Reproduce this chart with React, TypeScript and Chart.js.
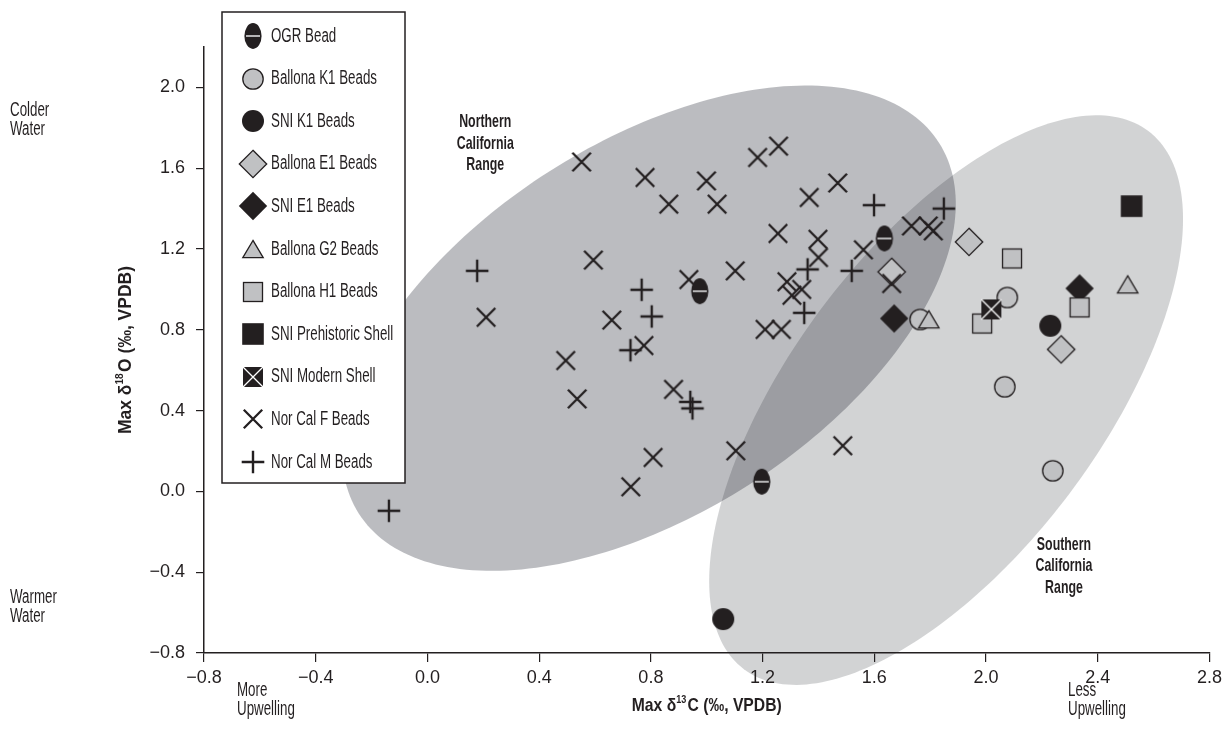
import React, { useEffect, useRef } from "react";
import { Chart, registerables } from "chart.js";

Chart.register(...registerables);

// ---------- axes ----------
const X_TICKS = [-0.8, -0.4, 0, 0.4, 0.8, 1.2, 1.6, 2.0, 2.4, 2.8];
const Y_TICKS = [-0.8, -0.4, 0, 0.4, 0.8, 1.2, 1.6, 2.0];
const X_RANGE = [-0.8, 2.8];
const Y_RANGE = [-0.8, 2.2];

// ---------- series ----------
const SERIES_NAMES = [
  "OGR Bead",
  "Ballona K1 Beads",
  "SNI K1 Beads",
  "Ballona E1 Beads",
  "SNI E1 Beads",
  "Ballona G2 Beads",
  "Ballona H1 Beads",
  "SNI Prehistoric Shell",
  "SNI Modern Shell",
  "Nor Cal F Beads",
  "Nor Cal M Beads",
];

const OGR_BEAD: number[][] = [
  [0.975, 0.991],
  [1.636, 1.252],
  [1.197, 0.048],
];
const BALLONA_K1: number[][] = [
  [1.764, 0.851],
  [2.076, 0.96],
  [2.067, 0.518],
  [2.239, 0.102],
];
const SNI_K1: number[][] = [
  [2.23, 0.82],
  [1.059, -0.632],
];
const BALLONA_E1: number[][] = [
  [1.662, 1.087],
  [1.939, 1.235],
  [2.269, 0.703],
];
const SNI_E1: number[][] = [
  [1.671, 0.856],
  [2.335, 1.005],
];
const BALLONA_G2: number[][] = [
  [1.795, 0.852],
  [2.507, 1.025],
];
const BALLONA_H1: number[][] = [
  [2.093, 1.153],
  [1.986, 0.831],
  [2.335, 0.911],
];
const SNI_PREHISTORIC: number[][] = [[2.521, 1.412]];
const SNI_MODERN: number[][] = [[2.019, 0.901]];
const NOR_CAL_F: number[][] = [
  [0.552, 1.631], [0.779, 1.554], [0.999, 1.537], [0.864, 1.422], [1.037, 1.422],
  [1.182, 1.653], [1.257, 1.709], [1.255, 1.277], [0.594, 1.145], [1.102, 1.092],
  [0.936, 1.049], [1.287, 1.038], [1.305, 0.971], [1.34, 1.0], [1.209, 0.802],
  [1.267, 0.802], [1.367, 1.455], [1.469, 1.527], [1.398, 1.248], [1.4, 1.158],
  [1.561, 1.196], [1.733, 1.314], [1.793, 1.314], [1.811, 1.29], [1.662, 1.029],
  [0.21, 0.862], [0.66, 0.848], [0.775, 0.722], [0.495, 0.648], [0.536, 0.458],
  [0.881, 0.505], [0.808, 0.168], [0.728, 0.023], [1.104, 0.201], [1.487, 0.226],
];
const NOR_CAL_M: number[][] = [
  [0.178, 1.092], [0.767, 0.998], [0.803, 0.866], [0.727, 0.699], [0.941, 0.443],
  [0.949, 0.411], [-0.138, -0.096], [1.361, 1.099], [1.349, 0.884], [1.519, 1.092],
  [1.599, 1.417], [1.849, 1.4],
];

const SERIES_DATA = [
  OGR_BEAD, BALLONA_K1, SNI_K1, BALLONA_E1, SNI_E1, BALLONA_G2,
  BALLONA_H1, SNI_PREHISTORIC, SNI_MODERN, NOR_CAL_F, NOR_CAL_M,
];
const SERIES_MARKERS = [
  "bead", "circleGray", "circleBlack", "diamondGray", "diamondBlack", "triangleGray",
  "squareGray", "squareBlack", "squareX", "xmark", "plus",
];
// drawing stack (0 = top)
const SERIES_ORDER = [0, 10, 9, 8, 7, 6, 5, 4, 3, 2, 1];

// ---------- range ellipses (data units: centre, two semi-axis vectors) ----------
const NORTH_CENTER = [0.793, 0.808];
const NORTH_AXIS_A = [1.039, 0.917];
const NORTH_AXIS_B = [-0.357, 0.776];
const SOUTH_CENTER = [1.857, 0.452];
const SOUTH_AXIS_A = [0.724, 1.332];
const SOUTH_AXIS_B = [-0.442, 0.462];
const NORTH_LABEL = ["Northern", "California", "Range"];
const NORTH_LABEL_AT = [0.207, 1.721];
const SOUTH_LABEL = ["Southern", "California", "Range"];
const SOUTH_LABEL_AT = [2.279, -0.37];

const X_TITLE = ["Max \u03b4", "13", "C (\u2030, VPDB)"];
const Y_TITLE = ["Max \u03b4", "18", "O (\u2030, VPDB)"];

const DARK = "#231f20";
const GRAY = "#c0c1c3";
const FONT = '"Liberation Sans", Arial, sans-serif';

function makeMarker(kind: string): HTMLCanvasElement {
  const S = 34;
  const c = document.createElement("canvas");
  c.width = S;
  c.height = S;
  const g = c.getContext("2d") as CanvasRenderingContext2D;
  const m = S / 2;
  g.strokeStyle = DARK;
  g.fillStyle = DARK;
  switch (kind) {
    case "bead": {
      g.beginPath();
      g.ellipse(m, m, 8.6, 12.9, 0, 0, Math.PI * 2);
      g.fill();
      g.strokeStyle = "#e8e8e8";
      g.lineWidth = 1.5;
      g.beginPath();
      g.moveTo(m - 7, m);
      g.lineTo(m + 7, m);
      g.stroke();
      break;
    }
    case "circleGray": {
      g.beginPath();
      g.arc(m, m, 10.2, 0, Math.PI * 2);
      g.fillStyle = GRAY;
      g.fill();
      g.lineWidth = 1.3;
      g.stroke();
      break;
    }
    case "circleBlack": {
      g.beginPath();
      g.arc(m, m, 11, 0, Math.PI * 2);
      g.fill();
      break;
    }
    case "diamondGray":
    case "diamondBlack": {
      const r = kind === "diamondGray" ? 13.7 : 14.2;
      g.beginPath();
      g.moveTo(m, m - r);
      g.lineTo(m + r, m);
      g.lineTo(m, m + r);
      g.lineTo(m - r, m);
      g.closePath();
      if (kind === "diamondGray") {
        g.fillStyle = GRAY;
        g.fill();
        g.lineWidth = 1.3;
        g.stroke();
      } else g.fill();
      break;
    }
    case "triangleGray": {
      g.beginPath();
      g.moveTo(m, m - 8.6);
      g.lineTo(m + 10.2, m + 8.6);
      g.lineTo(m - 10.2, m + 8.6);
      g.closePath();
      g.fillStyle = GRAY;
      g.fill();
      g.lineWidth = 1.3;
      g.stroke();
      break;
    }
    case "squareGray": {
      g.fillStyle = GRAY;
      g.fillRect(m - 9.5, m - 9.5, 19, 19);
      g.lineWidth = 1.3;
      g.strokeRect(m - 9.5, m - 9.5, 19, 19);
      break;
    }
    case "squareBlack": {
      g.fillRect(m - 10.8, m - 10.8, 21.6, 21.6);
      break;
    }
    case "squareX": {
      g.fillRect(m - 10, m - 10, 20, 20);
      g.strokeStyle = "#ffffff";
      g.lineWidth = 1.3;
      g.beginPath();
      g.moveTo(m - 10, m - 10);
      g.lineTo(m + 10, m + 10);
      g.moveTo(m + 10, m - 10);
      g.lineTo(m - 10, m + 10);
      g.stroke();
      break;
    }
    case "xmark": {
      g.lineWidth = 2.3;
      g.beginPath();
      g.moveTo(m - 9.2, m - 9.2);
      g.lineTo(m + 9.2, m + 9.2);
      g.moveTo(m + 9.2, m - 9.2);
      g.lineTo(m - 9.2, m + 9.2);
      g.stroke();
      break;
    }
    case "plus": {
      g.lineWidth = 2.4;
      g.beginPath();
      g.moveTo(m - 11.3, m);
      g.lineTo(m + 11.3, m);
      g.moveTo(m, m - 11.3);
      g.lineTo(m, m + 11.3);
      g.stroke();
      break;
    }
  }
  return c;
}

// horizontal compression factors so the installed font matches the condensed face
let SX_REG = 0.67;
let SX_BOLD = 0.62;
function calibrate(ctx: CanvasRenderingContext2D) {
  ctx.save();
  ctx.font = `20px ${FONT}`;
  const w1 = ctx.measureText("Ballona K1 Beads").width;
  if (w1 > 0) SX_REG = 106 / w1;
  ctx.font = `bold 19px ${FONT}`;
  const w2 = ctx.measureText("California").width;
  if (w2 > 0) SX_BOLD = 57 / w2;
  ctx.restore();
}

function drawText(
  ctx: CanvasRenderingContext2D,
  text: string,
  x: number,
  y: number,
  size: number,
  bold: boolean,
  align: "left" | "center" | "right"
) {
  const sx = bold ? SX_BOLD : SX_REG;
  ctx.save();
  ctx.font = `${bold ? "bold " : ""}${size}px ${FONT}`;
  ctx.textBaseline = "middle";
  ctx.textAlign = "left";
  ctx.fillStyle = DARK;
  const w = ctx.measureText(text).width * sx;
  const left = align === "left" ? x : align === "center" ? x - w / 2 : x - w;
  ctx.translate(left, y);
  ctx.scale(sx, 1);
  ctx.fillText(text, 0, 0);
  ctx.restore();
}

// title made of [main, superscript, rest], centred at (0,0), scaled to target width
function drawTitle(ctx: CanvasRenderingContext2D, parts: string[], size: number, target: number) {
  const supSize = Math.round(size * 0.58);
  ctx.save();
  ctx.fillStyle = DARK;
  ctx.textBaseline = "middle";
  ctx.textAlign = "left";
  const fonts = [
    `bold ${size}px ${FONT}`,
    `bold ${supSize}px ${FONT}`,
    `bold ${size}px ${FONT}`,
  ];
  const raw = parts.map((p, i) => {
    ctx.font = fonts[i];
    return ctx.measureText(p).width + (i === 1 ? 1.5 : 0);
  });
  const rawTotal = raw.reduce((a, b) => a + b, 0);
  const sx = target / rawTotal;
  let x = -target / 2;
  parts.forEach((p, i) => {
    ctx.save();
    ctx.font = fonts[i];
    ctx.translate(x, i === 1 ? -size * 0.3 : 0);
    ctx.scale(sx, 1);
    ctx.fillText(p, 0, 0);
    ctx.restore();
    x += raw[i] * sx;
  });
  ctx.restore();
}

function ellipsePath(
  ctx: CanvasRenderingContext2D,
  xs: any,
  ys: any,
  c: number[],
  a: number[],
  b: number[]
) {
  ctx.beginPath();
  const n = 240;
  for (let i = 0; i <= n; i++) {
    const t = (i / n) * Math.PI * 2;
    const vx = c[0] + Math.cos(t) * a[0] + Math.sin(t) * b[0];
    const vy = c[1] + Math.cos(t) * a[1] + Math.sin(t) * b[1];
    const px = xs.getPixelForValue(vx);
    const py = ys.getPixelForValue(vy);
    if (i === 0) ctx.moveTo(px, py);
    else ctx.lineTo(px, py);
  }
  ctx.closePath();
}

const fmt = (v: any) => {
  const n = Number(v);
  const s = Math.abs(n).toFixed(1);
  return n < -1e-9 ? "\u2212" + s : s;
};

export default function App() {
  const ref = useRef<HTMLCanvasElement | null>(null);

  useEffect(() => {
    const canvas = ref.current;
    if (!canvas) return;
    const markers = SERIES_MARKERS.map((k) => makeMarker(k));

    const rangesPlugin = {
      id: "ranges",
      beforeDraw(chart: any) {
        const { ctx, scales } = chart;
        const xs = scales.x;
        const ys = scales.y;
        ctx.save();
        ellipsePath(ctx, xs, ys, SOUTH_CENTER, SOUTH_AXIS_A, SOUTH_AXIS_B);
        ctx.fillStyle = "rgba(30,35,40,0.2)";
        ctx.fill();
        ellipsePath(ctx, xs, ys, NORTH_CENTER, NORTH_AXIS_A, NORTH_AXIS_B);
        ctx.fillStyle = "rgba(30,32,45,0.3)";
        ctx.fill();
        ctx.restore();
      },
    };

    const annotPlugin = {
      id: "annot",
      afterDraw(chart: any) {
        const { ctx, scales, chartArea } = chart;
        calibrate(ctx);
        const xs = scales.x;
        const ys = scales.y;
        // region labels
        const nx = xs.getPixelForValue(NORTH_LABEL_AT[0]);
        const ny = ys.getPixelForValue(NORTH_LABEL_AT[1]);
        NORTH_LABEL.forEach((t, i) => drawText(ctx, t, nx, ny + (i - 1) * 21.5, 19, true, "center"));
        const sxp = xs.getPixelForValue(SOUTH_LABEL_AT[0]);
        const syp = ys.getPixelForValue(SOUTH_LABEL_AT[1]);
        SOUTH_LABEL.forEach((t, i) => drawText(ctx, t, sxp, syp + (i - 1) * 21.5, 19, true, "center"));

        // side notes
        drawText(ctx, "Colder", 10, 110, 20, false, "left");
        drawText(ctx, "Water", 10, 129, 20, false, "left");
        drawText(ctx, "Warmer", 10, 597, 20, false, "left");
        drawText(ctx, "Water", 10, 616, 20, false, "left");
        drawText(ctx, "More", 237, 690, 20, false, "left");
        drawText(ctx, "Upwelling", 237, 709, 20, false, "left");
        drawText(ctx, "Less", 1068, 690, 20, false, "left");
        drawText(ctx, "Upwelling", 1068, 709, 20, false, "left");

        // axis titles
        ctx.save();
        ctx.translate((chartArea.left + chartArea.right) / 2, 706);
        drawTitle(ctx, X_TITLE, 19, 150);
        ctx.restore();
        ctx.save();
        ctx.translate(126, (chartArea.top + chartArea.bottom) / 2);
        ctx.rotate(-Math.PI / 2);
        drawTitle(ctx, Y_TITLE, 19, 168);
        ctx.restore();

        // legend
        const bx = 222, by = 12, bw = 183, bh = 471;
        ctx.save();
        ctx.fillStyle = "#ffffff";
        ctx.fillRect(bx, by, bw, bh);
        ctx.strokeStyle = DARK;
        ctx.lineWidth = 1.5;
        ctx.strokeRect(bx, by, bw, bh);
        ctx.restore();
        SERIES_NAMES.forEach((name, i) => {
          const cy = 36 + i * 42.6;
          const img = markers[i];
          ctx.drawImage(img, Math.round(253 - img.width / 2), Math.round(cy - img.height / 2));
          drawText(ctx, name, 271, cy, 20, false, "left");
        });
      },
    };

    const chart = new Chart(canvas, {
      type: "scatter",
      data: {
        datasets: SERIES_NAMES.map((name, i) => ({
          label: name,
          data: SERIES_DATA[i].map(([x, y]) => ({ x, y })),
          pointStyle: markers[i] as any,
          pointRadius: 10,
          pointHoverRadius: 10,
          showLine: false,
          order: SERIES_ORDER[i],
        })),
      },
      options: {
        animation: false,
        responsive: false,
        devicePixelRatio: 1,
        events: [],
        layout: { padding: { top: 47, right: 15, left: 0, bottom: 0 } },
        plugins: {
          legend: { display: false },
          tooltip: { enabled: false },
          title: { display: false },
        },
        scales: {
          x: {
            type: "linear",
            min: X_RANGE[0],
            max: X_RANGE[1],
            afterBuildTicks: (s: any) => {
              s.ticks = X_TICKS.map((v) => ({ value: v }));
            },
            afterFit: (s: any) => {
              s.height = 98;
            },
            ticks: {
              callback: fmt,
              autoSkip: false,
              maxRotation: 0,
              padding: 5,
              color: DARK,
              font: { family: FONT, size: 18 },
            },
            grid: {
              display: true,
              drawOnChartArea: false,
              drawTicks: true,
              tickLength: 9,
              color: DARK,
              tickColor: DARK,
              lineWidth: 1.2,
            },
            border: { display: true, color: DARK, width: 1.5 },
          },
          y: {
            type: "linear",
            min: Y_RANGE[0],
            max: Y_RANGE[1],
            afterBuildTicks: (s: any) => {
              s.ticks = Y_TICKS.map((v) => ({ value: v }));
            },
            afterFit: (s: any) => {
              s.width = 204;
            },
            ticks: {
              callback: fmt,
              autoSkip: false,
              padding: 11,
              color: DARK,
              font: { family: FONT, size: 18 },
            },
            grid: {
              display: true,
              drawOnChartArea: false,
              drawTicks: true,
              tickLength: 8,
              color: DARK,
              tickColor: DARK,
              lineWidth: 1.2,
            },
            border: { display: true, color: DARK, width: 1.5 },
          },
        },
      },
      plugins: [rangesPlugin, annotPlugin],
    } as any);

    return () => {
      chart.destroy();
    };
  }, []);

  return (
    <div style={{ position: "absolute", left: 0, top: 0, width: 1227, height: 751, background: "#fff" }}>
      <canvas ref={ref} width={1227} height={751} style={{ display: "block" }} />
    </div>
  );
}
